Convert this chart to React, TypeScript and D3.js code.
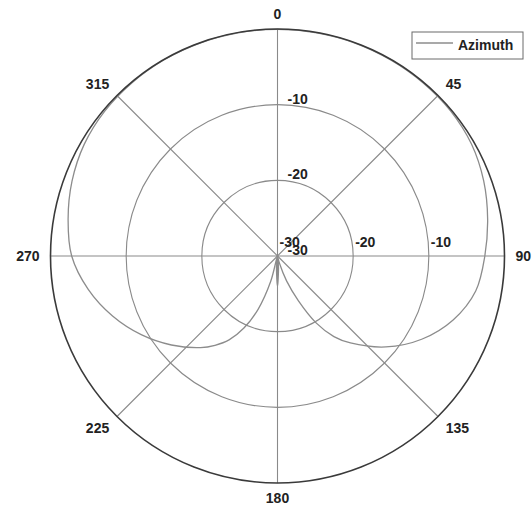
import { useEffect, useRef } from "react";
import * as d3 from "d3";

// Azimuth pattern, dB (angle in degrees, 0 at top, clockwise)
const ANGLES = [
  0, 10, 20, 30, 40, 50, 60, 70, 80, 90, 100, 110, 120, 130, 140, 145, 150, 155,
  160, 165, 170, 175, 180, 185, 190, 195, 200, 205, 210, 215, 220, 230, 240,
  250, 260, 270, 280, 290, 300, 310, 320, 330, 340, 350,
];
const AZIMUTH_DB = [
  -0.05, -0.05, -0.05, -0.08, -0.1, -0.15, -0.4, -1.0, -1.8, -2.6, -3.4, -5.3,
  -8.0, -11.3, -15.0, -17.0, -19.8, -23.5, -26.5, -29.0, -30, -28.5, -26.0,
  -28.5, -30, -26.5, -22.5, -19.5, -17.2, -15.6, -14.2, -11.7, -9.2, -6.8,
  -4.6, -2.8, -1.9, -1.1, -0.5, -0.2, -0.1, -0.05, -0.05, -0.05,
];
const RADIAL_TICKS = [-30, -20, -10];
const ANGLE_TICKS = [0, 45, 90, 135, 180, 225, 270, 315];
const SERIES_NAME = "Azimuth";

const WIDTH = 532;
const HEIGHT = 509;
const CX = 277.5;
const CY = 256;
const R = 227;

const COLORS = {
  outer: "#3a3a3a",
  grid: "#8a8a8a",
  series: "#8c8c8c",
  text: "#222",
  legendBorder: "#6a6a6a",
};
const FONT = "'Liberation Sans', Arial, sans-serif";

export default function App() {
  const svgRef = useRef<SVGSVGElement>(null);

  useEffect(() => {
    if (!svgRef.current) return;
    const svg = d3.select(svgRef.current);
    svg.selectAll("*").remove();

    const rScale = d3.scaleLinear().domain([-30, 0]).range([0, R]).clamp(true);
    const g = svg.append("g").attr("transform", `translate(${CX},${CY})`);

    // grid rings
    g.selectAll("circle.ring")
      .data([-20, -10])
      .join("circle")
      .attr("class", "ring")
      .attr("r", (d) => rScale(d))
      .attr("fill", "none")
      .attr("stroke", COLORS.grid)
      .attr("stroke-width", 1.1);

    // spokes
    g.selectAll("line.spoke")
      .data(ANGLE_TICKS)
      .join("line")
      .attr("class", "spoke")
      .attr("x1", 0)
      .attr("y1", 0)
      .attr("x2", (d) => R * Math.sin((d * Math.PI) / 180))
      .attr("y2", (d) => -R * Math.cos((d * Math.PI) / 180))
      .attr("stroke", COLORS.grid)
      .attr("stroke-width", 1.1);

    // pattern
    const pts = ANGLES.map((a, i) => ({ a, v: AZIMUTH_DB[i] }));
    const line = d3
      .lineRadial<{ a: number; v: number }>()
      .angle((d) => (d.a * Math.PI) / 180)
      .radius((d) => rScale(d.v))
      .curve(d3.curveCatmullRomClosed.alpha(0.5));
    g.append("path")
      .attr("d", line(pts) ?? "")
      .attr("fill", "none")
      .attr("stroke", COLORS.series)
      .attr("stroke-width", 1.3);

    // outer ring
    g.append("circle")
      .attr("r", R)
      .attr("fill", "none")
      .attr("stroke", COLORS.outer)
      .attr("stroke-width", 1.6);

    // radial tick labels along 0 deg
    g.selectAll("text.rt0")
      .data(RADIAL_TICKS)
      .join("text")
      .attr("class", "rt0")
      .attr("x", 10)
      .attr("y", (d) => -rScale(d) - 1)
      .attr("font-family", FONT)
      .attr("font-size", 14)
      .attr("font-weight", "bold")
      .attr("fill", COLORS.text)
      .text((d) => d);

    // radial tick labels along 90 deg
    g.selectAll("text.rt90")
      .data(RADIAL_TICKS)
      .join("text")
      .attr("class", "rt90")
      .attr("x", (d) => rScale(d) + 2)
      .attr("y", -9)
      .attr("font-family", FONT)
      .attr("font-size", 14)
      .attr("font-weight", "bold")
      .attr("fill", COLORS.text)
      .text((d) => d);

    // angle labels
    g.selectAll("text.at")
      .data(ANGLE_TICKS)
      .join("text")
      .attr("class", "at")
      .attr("x", (d) => (R + 11) * Math.sin((d * Math.PI) / 180))
      .attr("y", (d) => {
        const c = Math.cos((d * Math.PI) / 180);
        return -(R + 11) * c - 4 * Math.sign(Math.round(c * 100)) + 5;
      })
      .attr("text-anchor", (d) => {
        const s = Math.round(Math.sin((d * Math.PI) / 180) * 100);
        return s > 0 ? "start" : s < 0 ? "end" : "middle";
      })
      .attr("font-family", FONT)
      .attr("font-size", 14)
      .attr("font-weight", "bold")
      .attr("fill", COLORS.text)
      .text((d) => d);

    // legend
    const lg = svg.append("g").attr("transform", "translate(412,32)");
    lg.append("rect")
      .attr("width", 111)
      .attr("height", 27)
      .attr("fill", "#fff")
      .attr("stroke", COLORS.legendBorder)
      .attr("stroke-width", 1);
    lg.append("line")
      .attr("x1", 4)
      .attr("x2", 41)
      .attr("y1", 11)
      .attr("y2", 11)
      .attr("stroke", COLORS.series)
      .attr("stroke-width", 1.3);
    lg.append("text")
      .attr("x", 46)
      .attr("y", 17.5)
      .attr("font-family", FONT)
      .attr("font-size", 14)
      .attr("font-weight", "bold")
      .attr("fill", COLORS.text)
      .text(SERIES_NAME);
  }, []);

  return (
    <svg
      ref={svgRef}
      width={WIDTH}
      height={HEIGHT}
      style={{ position: "absolute", left: 0, top: 0, background: "#fff" }}
    />
  );
}
